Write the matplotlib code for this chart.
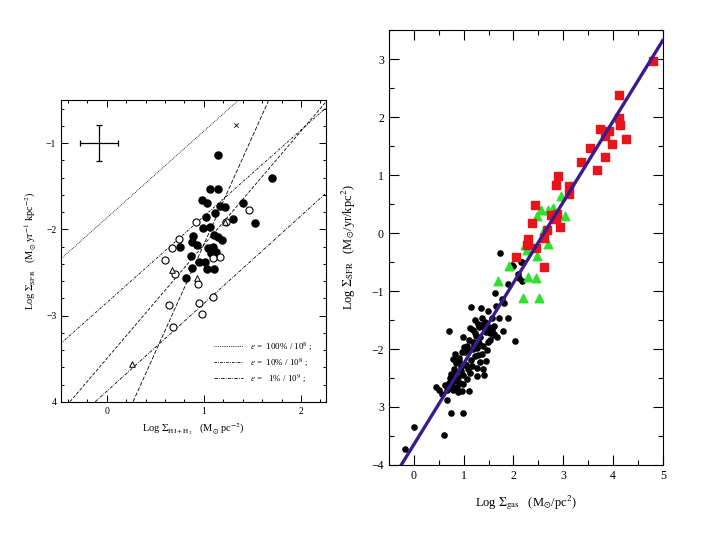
import numpy as np
import matplotlib
matplotlib.use('Agg')
import matplotlib.pyplot as plt
from matplotlib.ticker import MultipleLocator

plt.rcParams['font.family'] = ['Liberation Serif', 'DejaVu Serif']
plt.rcParams['mathtext.fontset'] = 'stix'

# ---- left panel data (log Sigma_HI+H2, log Sigma_SFR)
filled_x = [1.15, 1.70, 1.15, 1.06, 0.98, 1.03, 1.17, 1.22, 1.40, 1.11, 1.30, 1.02, 1.53,
            0.99, 1.06, 1.10, 1.15, 1.19, 0.89, 0.88, 0.93, 0.75, 1.04, 1.09, 1.07, 1.13,
            0.87, 0.95, 1.01, 0.88, 1.03, 1.10, 0.82]
filled_y = [-1.14, -1.41, -1.53, -1.53, -1.66, -1.70, -1.73, -1.74, -1.70, -1.81, -1.88, -1.86, -1.93,
            -1.99, -1.97, -2.07, -2.09, -2.12, -2.08, -2.15, -2.18, -2.21, -2.22, -2.21, -2.27, -2.26,
            -2.31, -2.38, -2.38, -2.45, -2.46, -2.46, -2.57]
open_x = [0.92, 1.23, 1.46, 0.74, 0.67, 0.60, 1.17, 1.09, 0.70, 0.94, 0.64, 0.95, 1.09, 0.98, 0.68]
open_y = [-1.92, -1.91, -1.78, -2.11, -2.22, -2.36, -2.32, -2.33, -2.52, -2.64, -2.88, -2.85, -2.79, -2.98, -3.13]
tri_x = [0.67, 0.93, 0.26, 1.22]
tri_y = [-2.47, -2.56, -3.56, -1.92]
cross_x, cross_y = [1.33], [-0.79]
errbar_x, errbar_y, errbar_dx, errbar_dy = -0.08, -1.0, 0.2, 0.21

# model lines: (x0, y0, x1, y1)
line_upper = (-0.47, -2.34, 1.36, -0.50)
line_mid = (-0.48, -3.33, 2.26, -0.59)
line_low = (-0.12, -4.00, 2.26, -1.58)
line_fit1 = (-0.38, -4.00, 2.26, -0.52)
line_fit2 = (0.27, -4.00, 1.67, -0.50)

legend_labels = [r'$\varepsilon$ =  100% / 10$^8$ ;',
                 r'$\varepsilon$ =  10% / 10$^8$ ;',
                 r'$\varepsilon$ =   1% / 10$^9$ ;']

# ---- right panel data (log Sigma_gas, log Sigma_SFR)
red_x = [4.79, 4.11, 4.12, 4.13, 4.26, 3.74, 3.91, 3.84, 3.97, 3.54, 3.84, 3.67, 3.35, 2.89,
         2.85, 3.11, 3.12, 2.43, 2.38, 2.75, 2.88, 2.85, 2.93, 2.67, 2.29, 2.62, 2.46, 2.06, 2.62, 2.28]
red_y = [2.97, 2.38, 1.99, 1.86, 1.63, 1.79, 1.77, 1.68, 1.53, 1.47, 1.32, 1.09, 1.23, 0.99,
         0.83, 0.81, 0.68, 0.48, 0.17, 0.31, 0.33, 0.24, 0.11, 0.06, -0.10, -0.08, -0.26, -0.41, -0.58, -0.20]
green_x = [2.55, 2.47, 2.70, 2.79, 2.95, 3.03, 3.11, 2.61, 2.24, 2.28, 2.69, 2.48, 1.91,
           1.69, 2.30, 2.46, 2.20, 2.52]
green_y = [0.40, 0.30, 0.40, 0.43, 0.64, 0.29, 0.70, 0.06, -0.21, -0.29, -0.18, -0.40, -0.56,
           -0.83, -0.76, -0.78, -1.12, -1.12]
black_x = [1.73, 1.97, 2.17, 1.99, 2.15, 2.12, 2.17, 2.09, 1.88, 1.63, 1.77, 1.81, 1.88, 1.79,
           2.04, 1.15, 1.34, 1.49, 0.71, 1.56, 1.65, 1.23, 1.29, 1.37, 1.43, 1.50, 1.56, 1.58,
           1.53, 1.66, 1.61, 1.19, 1.13, 0.98, 1.10, 1.19, 1.33, 1.39, 1.26, 1.09, 1.00, 1.46,
           1.36, 1.23, 1.14, 1.33, 1.38, 1.26, 1.16, 1.05, 0.91, 0.82, 0.79, 0.84, 0.94, 0.74,
           0.82, 0.89, 0.79, 0.98, 1.06, 0.92, 0.99, 0.86, 0.78, 0.89, 0.96, 0.71, 0.66, 0.44,
           0.51, 0.57, 0.67, 1.11, 1.26, 1.40, 0.74, 0.99, 0.60, 0.00, -0.17, 1.20, 1.30, 1.45,
           1.02, 1.08, 0.87, 0.76, 0.72, 1.18, 1.28, 1.41, 1.48, 1.52, 1.35, 0.95, 1.12, 1.22,
           0.80, 0.90, 1.04, 0.70, 0.62, 0.85, 1.44, 1.70, 1.25, 1.31, 1.60, 0.96, 1.06]
black_y = [-0.34, -0.55, -0.49, -0.56, -0.49, -0.78, -0.83, -0.71, -0.88, -1.04, -1.13, -1.21, -1.47, -1.69,
           -1.86, -1.28, -1.29, -1.34, -1.69, -1.47, -1.25, -1.50, -1.56, -1.47, -1.53, -1.62, -1.67, -1.76,
           -1.84, -1.79, -1.74, -1.67, -1.64, -1.79, -1.84, -1.88, -1.80, -1.95, -1.99, -2.02, -1.96, -2.02,
           -2.09, -2.12, -2.19, -2.23, -2.35, -2.33, -2.30, -2.27, -2.15, -2.09, -2.18, -2.24, -2.31, -2.43,
           -2.40, -2.48, -2.54, -2.44, -2.51, -2.58, -2.60, -2.66, -2.71, -2.75, -2.73, -2.65, -2.71, -2.66,
           -2.71, -2.77, -2.88, -2.73, -2.46, -2.45, -3.10, -3.10, -3.49, -3.35, -3.72, -1.95, -1.62, -1.70,
           -2.05, -2.35, -2.55, -2.62, -2.50, -2.00, -2.10, -1.62, -1.88, -1.72, -1.58, -2.38, -2.42, -1.72,
           -2.34, -2.20, -2.28, -2.58, -2.62, -2.50, -2.20, -1.46, -1.78, -1.90, -1.60, -2.05, -1.95]
fit_x = [-0.25, 4.99]
fit_y = [-4.0, 3.32]

fig = plt.figure(figsize=(7.2, 5.4), dpi=100)

# ================= left panel =================
ax1 = fig.add_axes([0.085, 0.256, 0.368, 0.559])
ax1.set_xlim(-0.47, 2.26)
ax1.set_ylim(-4.0, -0.5)

styles = [(line_upper, (0, (1, 1.2))), (line_mid, (0, (3, 1.5, 1, 1.5))),
          (line_low, (0, (4, 1.5, 1, 1.5))), (line_fit1, (0, (4, 2))), (line_fit2, (0, (5, 2)))]
for (x0, y0, x1, y1), ls in styles:
    ax1.plot([x0, x1], [y0, y1], color='black', lw=0.6, ls=ls)

ax1.scatter(filled_x, filled_y, s=26, color='black', zorder=3)
ax1.scatter(open_x, open_y, s=26, facecolor='white', edgecolor='black', lw=0.8, zorder=3)
ax1.scatter(tri_x, tri_y, s=16, marker='^', facecolor='white', edgecolor='black', lw=0.7, zorder=3)
ax1.scatter(cross_x, cross_y, s=10, marker='x', color='black', lw=0.6, zorder=3)
ax1.errorbar([errbar_x], [errbar_y], xerr=[errbar_dx], yerr=[errbar_dy], fmt='none',
             ecolor='black', elinewidth=0.9, capsize=2.5, capthick=0.9)

# legend drawn by hand
for i, (lab, ls) in enumerate(zip(legend_labels, [s[1] for s in styles[:3]])):
    yy = -3.35 - 0.19 * i
    ax1.plot([1.1, 1.4], [yy, yy], color='black', lw=0.6, ls=ls)
    ax1.text(1.48, yy, lab, fontsize=6.5, va='center', ha='left')

ax1.xaxis.set_major_locator(MultipleLocator(1))
ax1.xaxis.set_minor_locator(MultipleLocator(0.2))
ax1.yaxis.set_major_locator(MultipleLocator(1))
ax1.yaxis.set_minor_locator(MultipleLocator(0.2))
ax1.set_xticks([0, 1, 2])
ax1.set_xticklabels(['0', '1', '2'])
ax1.set_yticks([-1, -2, -3, -4])
ax1.set_yticklabels(['\u22121', '\u22122', '\u22123', '4'])
ax1.tick_params(which='both', direction='in', top=True, right=True, labelsize=7, width=0.7)
ax1.tick_params(which='major', length=5)
ax1.tick_params(which='minor', length=2.5)
for sp in ax1.spines.values():
    sp.set_linewidth(0.8)
ax1.set_xlabel(r'Log $\Sigma_{\rm HI+H_2}$   (M$_{\odot}$ pc$^{-2}$)', fontsize=7.5, labelpad=4)
ax1.set_ylabel(r'Log $\Sigma_{\rm SFR}$   (M$_{\odot}$ yr$^{-1}$ kpc$^{-2}$)', fontsize=7.5, labelpad=6)

# ================= right panel =================
ax2 = fig.add_axes([0.540, 0.139, 0.381, 0.805])
ax2.set_xlim(-0.5, 5.0)
ax2.set_ylim(-4.0, 3.5)

ax2.scatter(black_x, black_y, s=14, color='black', zorder=2)
ax2.scatter(green_x, green_y, s=38, marker='^', color='#2fe02f', zorder=3)
ax2.scatter(red_x, red_y, s=30, marker='s', color='#e8141c', zorder=3)
ax2.plot(fit_x, fit_y, color='#3a1a8c', lw=2.4, zorder=4)

ax2.xaxis.set_major_locator(MultipleLocator(1))
ax2.xaxis.set_minor_locator(MultipleLocator(0.5))
ax2.yaxis.set_minor_locator(MultipleLocator(0.5))
ax2.set_xticks([0, 1, 2, 3, 4, 5])
ax2.set_yticks([-4, -3, -2, -1, 0, 1, 2, 3])
ax2.set_yticklabels(['\u22124', '3', '\u22122', '\u22121', '0', '1', '2', '3'])
ax2.tick_params(which='both', direction='in', top=True, right=True, labelsize=8.5, width=0.8)
ax2.tick_params(which='major', length=7)
ax2.tick_params(which='minor', length=3.5)
for sp in ax2.spines.values():
    sp.set_linewidth(0.8)
ax2.set_xlabel(r'Log $\Sigma_{\rm gas}$   (M$_{\odot}$/pc$^2$)', fontsize=9, labelpad=8)
ax2.set_ylabel(r'Log $\Sigma_{\rm SFR}$   (M$_{\odot}$/yr/kpc$^2$)', fontsize=9, labelpad=10)

fig.savefig('out.png', dpi=100)
